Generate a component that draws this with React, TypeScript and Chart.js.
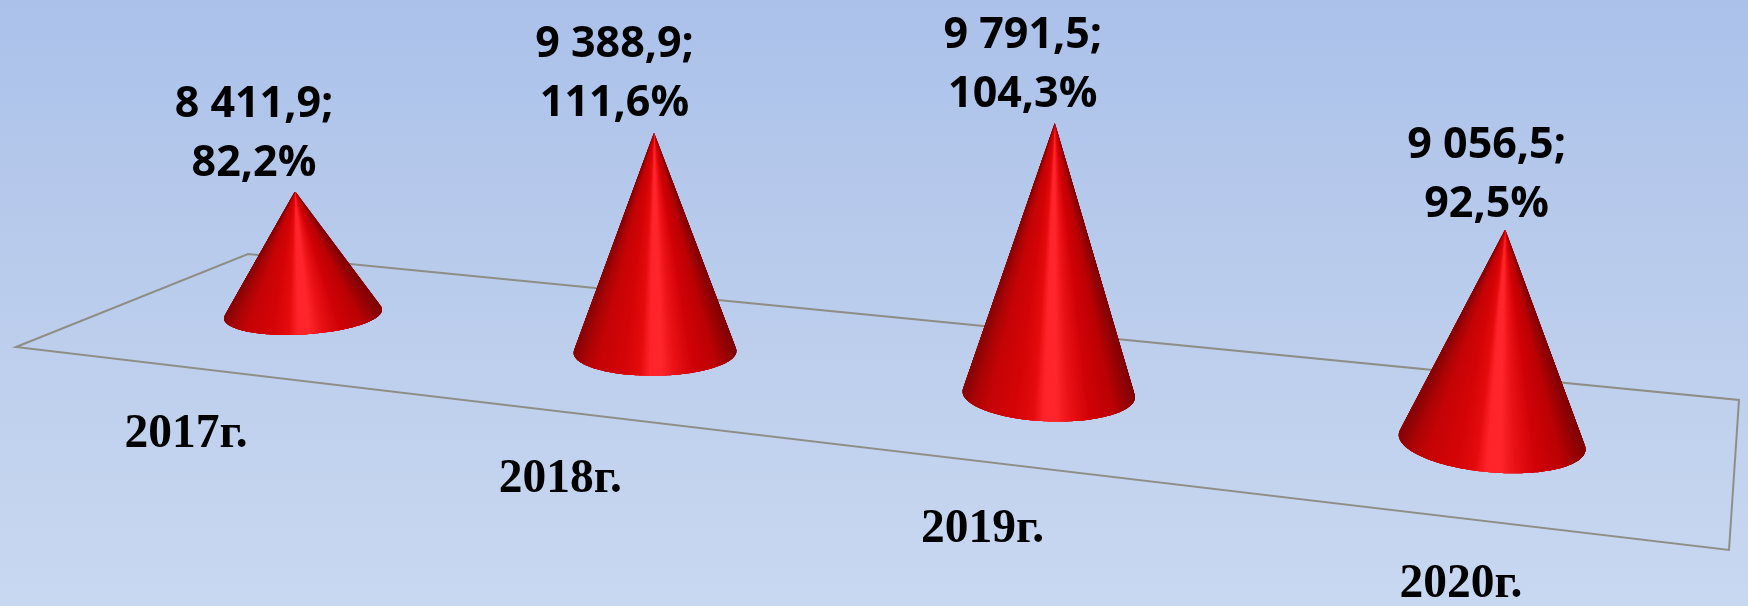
import React, { useEffect, useRef } from "react";
import { Chart, registerables } from "chart.js";

Chart.register(...registerables);

const categories = ["2017г.", "2018г.", "2019г.", "2020г."];
const values = [8411.9, 9388.9, 9791.5, 9056.5];
const percents = [82.2, 111.6, 104.3, 92.5];

const SHADE: [number, number[]][] = [
  [0, [135, 4, 6]],
  [0.06, [170, 4, 6]],
  [0.15, [198, 4, 6]],
  [0.3, [212, 4, 6]],
  [0.41, [228, 12, 14]],
  [0.47, [255, 36, 42]],
  [0.54, [255, 38, 44]],
  [0.62, [234, 18, 22]],
  [0.74, [208, 2, 6]],
  [0.88, [186, 2, 4]],
  [1, [130, 2, 4]],
];

function shade(s: number) {
  const c0 = Math.max(0, Math.min(1, s));
  for (let i = 1; i < SHADE.length; i++) {
    if (c0 <= SHADE[i][0]) {
      const [a, ca] = SHADE[i - 1];
      const [b, cb] = SHADE[i];
      const k = (c0 - a) / (b - a);
      const c = ca.map((v, j) => Math.round(v + (cb[j] - v) * k));
      return `rgb(${c[0]},${c[1]},${c[2]})`;
    }
  }
  return "rgb(130,2,4)";
}

function project(u: number) {
  const w = 1 - 0.053 * u;
  const cx = (303 + 317.3 * u) / w;
  return {
    cx,
    cy: 314 + (cx - 303) * 0.1077,
    hw: 79 + 1.2 * u + 1.2 * u * u,
    ry: 20.5 + 3.3 * u,
    tilt: -0.055 + 0.044 * u,
    lean: -8 + 7 * u,
  };
}

const fmt = (v: number) => {
  const [a, b] = v.toFixed(1).split(".");
  return `${a.replace(/\B(?=(\d{3})+$)/g, " ")},${b}`;
};

const HEIGHT_FACTOR = 0.00726;
const ROUND = 0.3;

function geometry(chart: any, bar: any) {
  const { chartArea } = chart;
  const W = chartArea.right - chartArea.left;
  const u = ((bar.x - chartArea.left) / W) * categories.length - 0.5;
  const p = project(u);
  const h = (chartArea.bottom - bar.y) * (79 / (1 - 0.053 * u)) * HEIGHT_FACTOR;
  return { u, p, ax: p.cx + p.lean, ay: p.cy - h };
}

const conePlugin = {
  id: "cones",
  beforeDraw(chart: any) {
    const { ctx, width, height } = chart;
    const g = ctx.createLinearGradient(0, 0, 0, height);
    g.addColorStop(0, "#abc1ea");
    g.addColorStop(0.5, "#bbcdec");
    g.addColorStop(1, "#c9d8f1");
    ctx.fillStyle = g;
    ctx.fillRect(0, 0, width, height);
    ctx.strokeStyle = "#8e8e86";
    ctx.lineWidth = 2;
    ctx.lineJoin = "miter";
    ctx.beginPath();
    ctx.moveTo(16, 347);
    ctx.lineTo(248, 254);
    ctx.lineTo(1739, 400);
    ctx.lineTo(1729, 550);
    ctx.closePath();
    ctx.stroke();
  },
  beforeDatasetDraw(chart: any, args: any) {
    const { ctx } = chart;
    const meta = chart.getDatasetMeta(args.index);
    meta.data.forEach((bar: any) => {
      const { p, ax, ay } = geometry(chart, bar);
      const N = 140;
      const start = -ROUND;
      const span = Math.PI + 2 * ROUND;
      const pt = (th: number) => ({
        x: p.cx + p.hw * Math.cos(th),
        y: p.cy + p.hw * p.tilt * Math.cos(th) + p.ry * Math.sin(th),
      });
      ctx.save();
      for (let n = 0; n < N; n++) {
        const t0 = start + (span * n) / N;
        const t1 = start + (span * Math.min(n + 4, N)) / N;
        const tm = start + (span * (n + 0.5)) / N;
        ctx.beginPath();
        ctx.moveTo(ax, ay);
        for (let k = 0; k <= 4; k++) {
          const a = pt(t0 + ((t1 - t0) * k) / 4);
          ctx.lineTo(a.x, a.y);
        }
        ctx.closePath();
        ctx.fillStyle = shade((1 + Math.cos(tm)) / 2);
        ctx.fill();
      }
      ctx.restore();
    });
    return false;
  },
  afterDatasetsDraw(chart: any) {
    const { ctx } = chart;
    const meta = chart.getDatasetMeta(0);
    ctx.save();
    ctx.fillStyle = "#000";
    ctx.textAlign = "center";
    ctx.textBaseline = "middle";
    meta.data.forEach((bar: any, i: number) => {
      const { u, p, ax, ay } = geometry(chart, bar);
      const lx = ax - 41 - 1.5 * u + 3 * u * u;
      const dy = 1.1 * (2 - 2 * u + u * u);
      ctx.font = 'bold 43px "Open Sans", "Noto Sans", sans-serif';
      ctx.fillText(`${fmt(values[i])};`, lx, ay - 89 + dy);
      ctx.fillText(`${percents[i].toFixed(1).replace(".", ",")}%`, lx, ay - 30 + dy);
      ctx.font = 'bold 47.5px "Liberation Serif", serif';
      ctx.fillText(categories[i], p.cx - 117 + 19 * u + 3.2 * u * u, p.cy + 121 + 7.3 * u);
    });
    ctx.restore();
  },
};

export default function App() {
  const ref = useRef<HTMLCanvasElement>(null);
  useEffect(() => {
    document.body.style.margin = "0";
    const chart = new Chart(ref.current as HTMLCanvasElement, {
      type: "bar",
      data: {
        labels: categories,
        datasets: [{ label: "Значение", data: values, backgroundColor: "#e01015" }],
      },
      options: {
        animation: false,
        responsive: false,
        layout: { padding: 0 },
        plugins: { legend: { display: false }, tooltip: { enabled: false } },
        scales: {
          x: { display: false },
          y: { display: false, min: 7000, max: 11000 },
        },
      },
      plugins: [conePlugin],
    } as any);
    return () => chart.destroy();
  }, []);
  return <canvas ref={ref} width={1748} height={606} style={{ display: "block" }} />;
}
